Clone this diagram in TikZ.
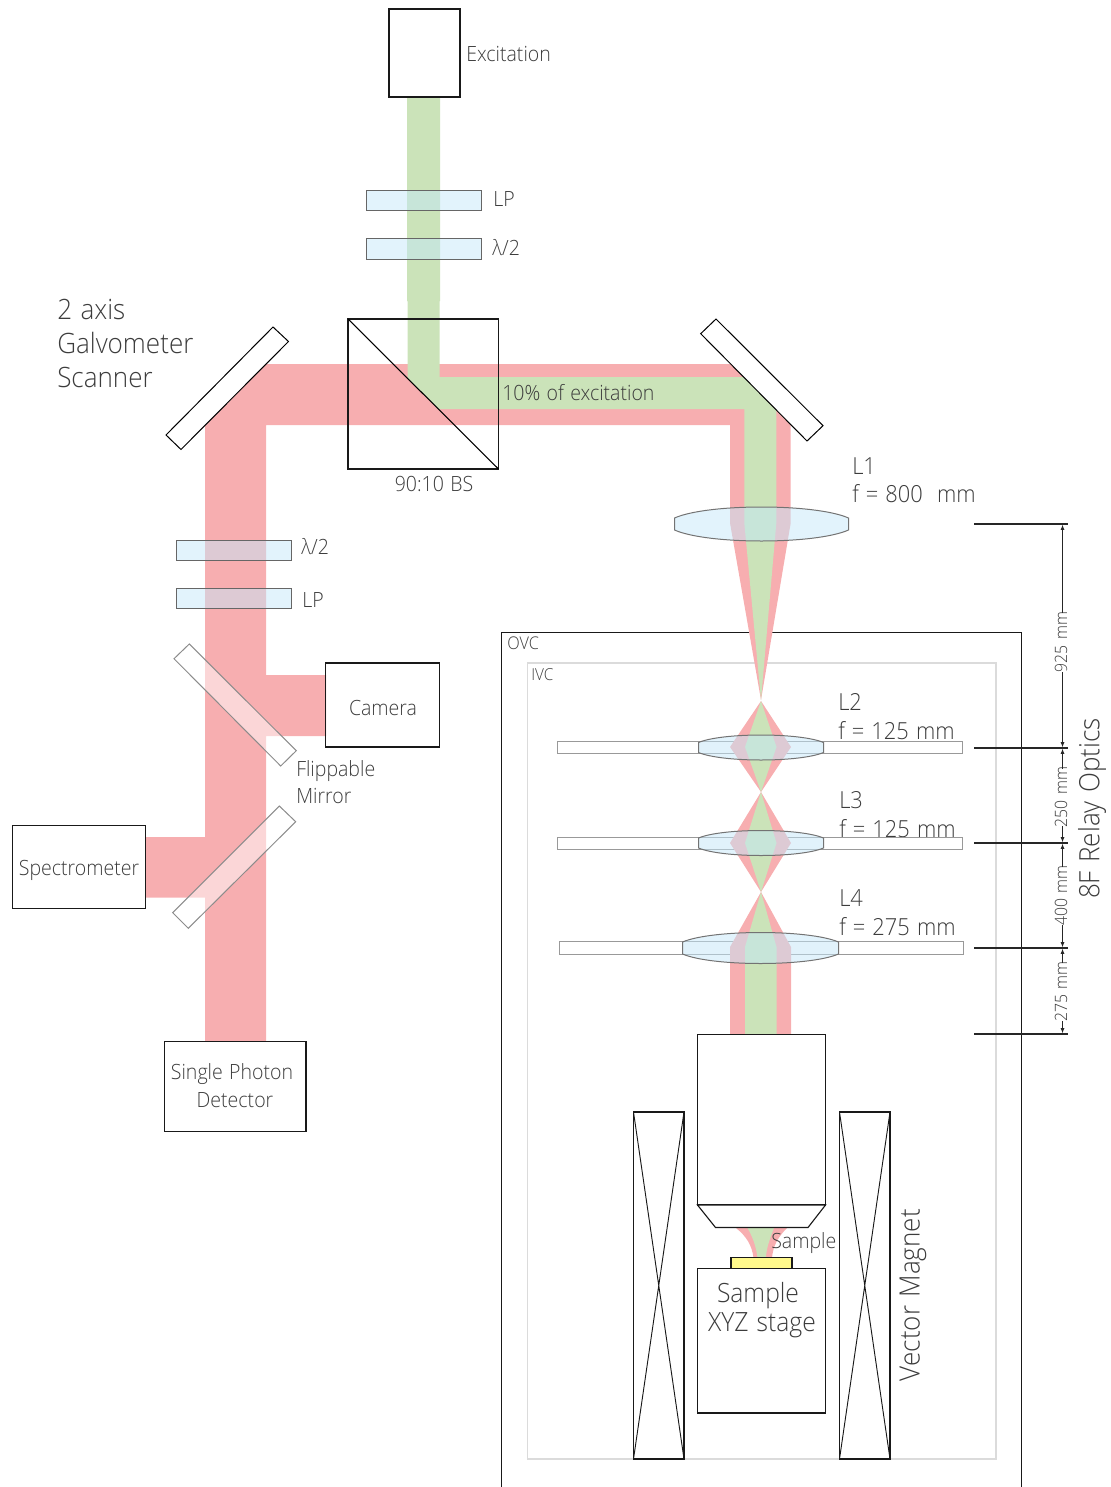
\documentclass[tikz,border=0pt]{standalone}
\usepackage{fontspec}
\setmainfont[FakeStretch=0.93,WordSpace=1.25]{Open Sans Light}
\usetikzlibrary{arrows.meta}
\definecolor{redbeam}{HTML}{F7AEB0}
\definecolor{greenbeam}{HTML}{CBE3B9}
\definecolor{glass}{HTML}{C5E7F9}
\definecolor{ink}{HTML}{3C3C3C}
\newcommand{\pxfont}[1]{\fontsize{\fpeval{#1*0.75}pt}{\fpeval{#1*0.9}pt}\selectfont}
\tikzset{
  x=0.75pt,y=-0.75pt,
  redb/.style={fill=redbeam,draw=none},
  greenb/.style={fill=greenbeam,draw=none},
  plate/.style={fill=glass,fill opacity=0.5,draw=black!60,line width=0.75pt},
  lensb/.style={fill=glass,fill opacity=0.5,draw=black!55,line width=0.75pt},
  rail/.style={fill=white,draw=black!40,line width=0.75pt},
  flip/.style={fill=white,fill opacity=0.5,draw=black!45,line width=0.75pt},
  box/.style={draw=black!90,line width=0.85pt},
  mirror/.style={draw=black,fill=white,line width=0.75pt},
  lab/.style={text=ink,inner sep=0pt,anchor=west},
  labc/.style={text=ink,inner sep=0pt,anchor=center,align=center},
  dim/.style={draw=black!85,line width=0.9pt},
  dimtick/.style={draw=black!85,line width=0.9pt},
  dimarrow/.style={dim,-{Latex[length=4pt,width=3pt]}},
  dimtxt/.style={text=ink,inner sep=0pt,rotate=90,anchor=center,font=\pxfont{17}},
}
\newcommand{\lens}[5]{%
  \pgfmathsetmacro{\lw}{#3}\pgfmathsetmacro{\le}{#5}%
  \pgfmathsetmacro{\lb}{-#5-(#4-#5)*4/3}%
  \pgfmathsetmacro{\lc}{#5+(#4-#5)*4/3}%
  \path[lensb] (#1-\lw,#2-\le) .. controls (#1-\lw*0.62,#2+\lb) and (#1+\lw*0.62,#2+\lb) .. (#1+\lw,#2-\le)
    -- (#1+\lw,#2+\le) .. controls (#1+\lw*0.62,#2+\lc) and (#1-\lw*0.62,#2+\lc) .. (#1-\lw,#2+\le) -- cycle;}
\begin{document}
\begin{tikzpicture}
\useasboundingbox (0,0) rectangle (1110,1487);
% enclosure
\draw[draw=black!90,line width=0.85pt] (501.5,1487) -- (501.5,632.5) -- (1021.5,632.5) -- (1021.5,1487);
\draw[draw=black!14,line width=1pt] (527.5,663) rectangle (996,1459);
% labels hidden in part by the rails
\node[lab,font=\pxfont{23.5}] (l2a) at (838,702) {L2};
\node[lab,font=\pxfont{23.5}] (l2b) at (838,731) {f = 125 mm};
\node[lab,font=\pxfont{23.5}] (l3a) at (839,800) {L3};
\node[lab,font=\pxfont{23.5}] (l3b) at (839,829) {f = 125 mm};
\node[lab,font=\pxfont{23.5}] (l4a) at (839,898) {L4};
\node[lab,font=\pxfont{23.5}] (l4b) at (839,927) {f = 275 mm};
% rails
\draw[rail] (557.5,741) rectangle (962.5,753);
\draw[rail] (557.5,837) rectangle (962.5,849);
\draw[rail] (559,941.5) rectangle (963.5,954);
% red beam
\fill[redb] (265,364) -- (731,364) -- (790.7,423.7) -- (790.7,523) -- (761,700) -- (730,523) -- (730,425)
  -- (266,425) -- (266,675) -- (326,675) -- (326,736) -- (266,736) -- (266,1041) -- (205,1041)
  -- (205,897.5) -- (146,897.5) -- (146,837) -- (205,837) -- (205,424) -- cycle;
\fill[redb] (761,701) -- (791,747) -- (761,792) -- (730,747) -- cycle;
\fill[redb] (761,792) -- (791,843) -- (761,892) -- (730,843) -- cycle;
\fill[redb] (761,892) -- (791,947) -- (791,1034) -- (730,1034) -- (730,947) -- cycle;
% green beam
\fill[greenb] (407,97) -- (440,97) -- (440,301) -- (439.5,301) -- (439.5,377) -- (744,377) -- (776.3,409.3) -- (776.3,523)
  -- (761,700) -- (744.3,523) -- (744.3,409) -- (438,409) -- (407.5,378) -- (407.5,301) -- (407,301) -- cycle;
\fill[greenb] (761,701) -- (776.5,747) -- (761,792) -- (745,747) -- cycle;
\fill[greenb] (761,792) -- (776.5,843) -- (761,892) -- (745,843) -- cycle;
\fill[greenb] (761,892) -- (776.5,947) -- (776.5,1034) -- (745,1034) -- (745,947) -- cycle;
% beam under the objective
\fill[redb] (736,1228) .. controls (746,1236) and (752,1245) .. (753.5,1258) -- (772,1258) .. controls (773,1245) and (779,1236) .. (787,1228) -- cycle;
\fill[greenb] (747.5,1228) .. controls (752,1236) and (756,1245) .. (757.5,1258) -- (765.7,1258) .. controls (767,1245) and (771,1236) .. (774,1228) -- cycle;
% beam splitter
\draw[box,line width=1pt] (348,319) rectangle (498.5,469);
\draw[draw=black,line width=0.8pt] (348,319) -- (498.5,469);
% mirrors
\draw[mirror] (716,319) -- (700.7,333.7) -- (807,441) -- (823,425.7) -- cycle;
\draw[mirror] (273,327) -- (288.5,341.5) -- (181,449.5) -- (166,435) -- cycle;
\draw[flip] (189.3,644) -- (174,658.7) -- (280.7,766) -- (296.3,750.7) -- cycle;
\draw[flip] (279.3,806) -- (295.7,821.7) -- (188.3,928.3) -- (172.7,912.7) -- cycle;
% wave plates
\draw[plate] (366.5,191) rectangle (481.5,211);
\draw[plate] (366.5,239) rectangle (481.5,259);
\draw[plate] (176.5,540) rectangle (291.5,560);
\draw[plate] (176.5,588) rectangle (291.5,608);
% lenses
\lens{761.5}{524}{87}{17}{6}
\lens{761}{747.5}{62.5}{12.5}{5}
\lens{761}{843}{62.5}{12.5}{5}
\lens{760.5}{948}{78}{15.5}{6}
% boxes
\node[box,minimum width=53.25pt,minimum height=66pt,inner sep=0pt,line width=2pt] (exc) at (424.5,53) {};
\node[box,minimum width=85.1pt,minimum height=63pt,inner sep=0pt] (cam) at (382.5,705) {};
\node[labc,font=\pxfont{21}] (camt) at (383,707.5) {Camera};
\node[box,minimum width=99.75pt,minimum height=62.25pt,inner sep=0pt] (spec) at (79,867.3) {};
\node[labc,font=\pxfont{21}] (spect) at (79,870) {Spectrometer};
\draw[box] (164.5,1041.5) rectangle (306,1131.5);
\node[labc,font=\pxfont{21}] (det1) at (232,1074.5) {Single Photon};
\node[labc,font=\pxfont{21}] (det2) at (235,1100) {Detector};
% objective, stage, sample
\draw[box,fill=white] (697.5,1034.5) rectangle (825.5,1205);
\draw[box,fill=white] (697.5,1205) -- (715.5,1227.5) -- (808,1227.5) -- (825.5,1205) -- cycle;
\draw[box,fill=white] (697.5,1268.5) rectangle (825.5,1413);
\draw[box,fill=yellow!45!white] (731,1257.5) rectangle (792,1268.5);
% coils
\draw[box] (633.5,1112) rectangle (684,1459);
\draw[box,line width=0.7pt] (633.5,1112) -- (684,1459) (684,1112) -- (633.5,1459);
\draw[box] (839.5,1112) rectangle (890,1459);
\draw[box,line width=0.7pt] (839.5,1112) -- (890,1459) (890,1112) -- (839.5,1459);
% dimension ticks
\coordinate (ta) at (974,524); \coordinate (tae) at (1068,524);
\coordinate (tb) at (974,748); \coordinate (tbe) at (1068,748);
\coordinate (tc) at (974,843); \coordinate (tce) at (1068,843);
\coordinate (td) at (974,948); \coordinate (tde) at (1068,948);
\coordinate (te) at (974,1034); \coordinate (tee) at (1068,1034);
\draw[dimtick] (ta) -- (tae); \draw[dimtick] (tb) -- (tbe); \draw[dimtick] (tc) -- (tce);
\draw[dimtick] (td) -- (tde); \draw[dimtick] (te) -- (tee);
\node[dimtxt] (d1) at (1061,642) {925 mm};
\node[dimtxt] (d2) at (1061,797) {250 mm};
\node[dimtxt] (d3) at (1061,895.5) {400 mm};
\node[dimtxt] (d4) at (1061,991.5) {275 mm};
\coordinate (a1) at (1062.5,524.5); \coordinate (b1) at (1062.5,747.5);
\coordinate (b2) at (1062.5,748.5); \coordinate (c1) at (1062.5,842.5);
\coordinate (c2) at (1062.5,843.5); \coordinate (e1) at (1062.5,947.5);
\coordinate (e2) at (1062.5,948.5); \coordinate (f1) at (1062.5,1033.5);
\coordinate (m1) at (1062.5,613); \coordinate (m2) at (1062.5,672);
\coordinate (m3) at (1062.5,769); \coordinate (m4) at (1062.5,826);
\coordinate (m5) at (1062.5,867); \coordinate (m6) at (1062.5,925);
\coordinate (m7) at (1062.5,963); \coordinate (m8) at (1062.5,1021);
\draw[dimarrow] (m1) -- (a1); \draw[dimarrow] (m2) -- (b1);
\draw[dimarrow] (m3) -- (b2); \draw[dimarrow] (m4) -- (c1);
\draw[dimarrow] (m5) -- (c2); \draw[dimarrow] (m6) -- (e1);
\draw[dimarrow] (m7) -- (e2); \draw[dimarrow] (m8) -- (f1);
% labels
\node[lab,font=\pxfont{21}] (t1) at (466,54) {Excitation};
\node[lab,font=\pxfont{21}] (t2) at (493,199) {LP};
\node[lab,font=\pxfont{21}] (t3) at (492,248) {λ/2};
\node[lab,font=\pxfont{21}] (t4) at (502,393) {10\% of excitation};
\node[labc,font=\pxfont{21}] (t5) at (434,484) {90:10 BS};
\node[lab,font=\pxfont{23.5}] (t6) at (852,466) {L1};
\node[lab,font=\pxfont{23.5}] (t7) at (852,494) {f = 800\ \ mm};
\node[lab,font=\pxfont{21}] (t8) at (301,547) {λ/2};
\node[lab,font=\pxfont{21}] (t9) at (302,600) {LP};
\node[lab,font=\pxfont{21}] (t10) at (296,771) {Flippable};
\node[lab,font=\pxfont{21}] (t11) at (296,796) {Mirror};
\node[lab,font=\pxfont{17.5}] (t12) at (507,643) {OVC};
\node[lab,font=\pxfont{16.5}] (t13) at (531,675) {IVC};
\node[lab,font=\pxfont{28}] (t14) at (57,309.5) {2 axis};
\node[lab,font=\pxfont{28}] (t15) at (57,343) {Galvometer};
\node[lab,font=\pxfont{28}] (t16) at (57,377) {Scanner};
\node[lab,font=\pxfont{21}] (t17) at (771,1243.5) {Sample};
\node[labc,font=\pxfont{26.5}] (t18) at (758,1295.5) {Sample};
\node[labc,font=\pxfont{26.5}] (t19) at (762,1325) {XYZ stage};
\node[labc,font=\pxfont{28},rotate=90] (t20) at (913,1295) {Vector Magnet};
\node[labc,font=\pxfont{28},rotate=90] (t21) at (1092,808.5) {8F Relay Optics};
\end{tikzpicture}
\end{document}
